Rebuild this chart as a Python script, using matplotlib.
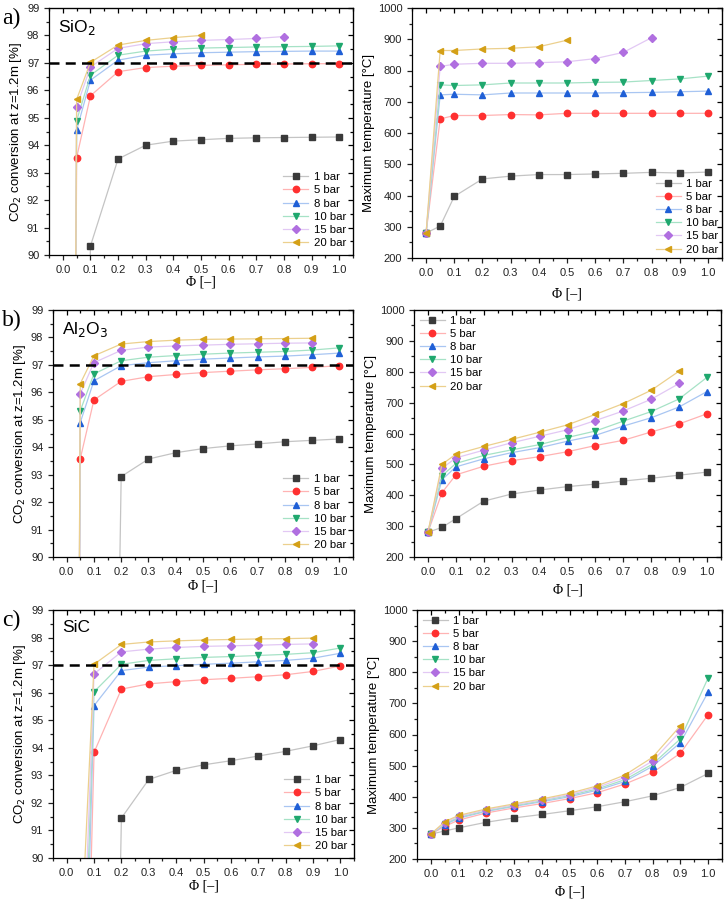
import matplotlib
matplotlib.use("Agg")
import matplotlib.pyplot as plt
from matplotlib.ticker import MultipleLocator

plt.rcParams['font.family'] = ['Liberation Sans', 'DejaVu Sans']

# --- data ---------------------------------------------------------------
phi = [0.0, 0.05, 0.1, 0.2, 0.3, 0.4, 0.5, 0.6, 0.7, 0.8, 0.9, 1.0]
pressures = ['1 bar', '5 bar', '8 bar', '10 bar', '15 bar', '20 bar']

# CO2 conversion at z=1.2m [%]
sio2_conv = {
    '1 bar': [0.0, 60.0, 90.33, 93.5, 94.0, 94.15, 94.2, 94.25, 94.27, 94.28, 94.29, 94.3],
    '5 bar': [0.0, 93.55, 95.8, 96.68, 96.83, 96.88, 96.91, 96.93, 96.95, 96.96, 96.97, 96.97],
    '8 bar': [0.0, 94.55, 96.37, 97.1, 97.28, 97.33, 97.37, 97.39, 97.41, 97.42, 97.43, 97.43],
    '10 bar': [0.0, 94.9, 96.55, 97.28, 97.43, 97.5, 97.54, 97.56, 97.58, 97.59, 97.6, 97.62],
    '15 bar': [0.0, 95.4, 96.85, 97.53, 97.7, 97.77, 97.82, 97.85, 97.89, 97.96],
    '20 bar': [0.0, 95.67, 97.02, 97.65, 97.82, 97.92, 98.0],
}
al2o3_conv = {
    '1 bar': [0.0, 20.0, 30.0, 92.93, 93.57, 93.8, 93.95, 94.05, 94.12, 94.2, 94.25, 94.3],
    '5 bar': [0.0, 93.58, 95.72, 96.4, 96.57, 96.65, 96.72, 96.77, 96.82, 96.86, 96.91, 96.97],
    '8 bar': [0.0, 94.9, 96.42, 96.97, 97.08, 97.15, 97.21, 97.25, 97.29, 97.32, 97.37, 97.43],
    '10 bar': [0.0, 95.33, 96.67, 97.15, 97.28, 97.34, 97.39, 97.43, 97.46, 97.49, 97.54, 97.62],
    '15 bar': [0.0, 95.95, 97.08, 97.53, 97.65, 97.69, 97.72, 97.75, 97.77, 97.79, 97.8],
    '20 bar': [0.0, 96.32, 97.33, 97.76, 97.85, 97.9, 97.93, 97.94, 97.95, 97.96, 97.97],
}
sic_conv = {
    '1 bar': [0.0, 25.0, 40.0, 91.45, 92.85, 93.18, 93.38, 93.53, 93.7, 93.87, 94.07, 94.3],
    '5 bar': [0.0, 74.7, 93.83, 96.13, 96.32, 96.4, 96.47, 96.52, 96.58, 96.65, 96.77, 96.97],
    '8 bar': [0.0, 78.2, 95.53, 96.8, 96.93, 96.98, 97.03, 97.07, 97.12, 97.17, 97.25, 97.43],
    '10 bar': [0.0, 81.0, 96.03, 97.03, 97.17, 97.23, 97.28, 97.31, 97.35, 97.39, 97.45, 97.62],
    '15 bar': [0.0, 83.3, 96.68, 97.48, 97.58, 97.64, 97.68, 97.7, 97.72, 97.75, 97.77],
    '20 bar': [0.0, 86.4, 97.03, 97.75, 97.84, 97.88, 97.91, 97.93, 97.95, 97.96, 97.98],
}

# Maximum temperature [degC]
sio2_temp = {
    '1 bar': [280, 302, 397, 453, 462, 467, 467, 469, 471, 474, 472, 475],
    '5 bar': [280, 645, 656, 656, 659, 658, 663, 663, 663, 663, 663, 663],
    '8 bar': [280, 722, 724, 722, 728, 728, 728, 728, 729, 730, 732, 734],
    '10 bar': [280, 754, 752, 754, 760, 760, 760, 762, 763, 768, 773, 782],
    '15 bar': [280, 813, 820, 823, 823, 825, 828, 838, 858, 905],
    '20 bar': [280, 864, 864, 869, 871, 876, 897],
}
al2o3_temp = {
    '1 bar': [280, 296, 324, 381, 404, 417, 428, 436, 446, 455, 465, 475],
    '5 bar': [280, 408, 466, 494, 512, 525, 541, 561, 578, 605, 631, 664],
    '8 bar': [280, 450, 492, 518, 538, 554, 575, 594, 624, 651, 686, 736],
    '10 bar': [280, 463, 503, 529, 547, 564, 587, 608, 640, 671, 712, 782],
    '15 bar': [280, 487, 521, 546, 570, 591, 612, 642, 673, 711, 762],
    '20 bar': [280, 500, 533, 558, 581, 604, 628, 662, 697, 740, 802],
}
sic_temp = {
    '1 bar': [280, 290, 300, 318, 332, 343, 355, 368, 384, 403, 430, 475],
    '5 bar': [280, 305, 325, 348, 364, 378, 394, 413, 441, 478, 540, 664],
    '8 bar': [280, 310, 331, 353, 369, 384, 400, 421, 449, 498, 574, 736],
    '10 bar': [280, 313, 334, 355, 371, 387, 404, 425, 455, 505, 586, 782],
    '15 bar': [280, 316, 337, 358, 374, 390, 407, 430, 462, 515, 610],
    '20 bar': [280, 320, 340, 361, 377, 393, 411, 435, 470, 527, 628],
}

target_conv = 97.0

# --- style ---------------------------------------------------------------
markers = ['s', 'o', '^', 'v', 'D', '<']
marker_colors = ['#3a3a3a', '#ff3030', '#1f5fd6', '#1fa86e', '#b06fe0', '#d4a017']
line_colors = ['#c4c4c4', '#ffb3b3', '#a9c6f2', '#a6e2c6', '#e2c8f4', '#ecd08e']
msizes = [4.0, 4.6, 4.8, 4.8, 4.0, 4.8]

W, H = 724, 900
fig = plt.figure(figsize=(W / 100, H / 100), dpi=100)


def add_ax(x0, x1, y0, y1):
    return fig.add_axes([x0 / W, 1 - y1 / H, (x1 - x0) / W, (y1 - y0) / H])


def style(ax, ylim, ymaj, ymin, xpad):
    ax.set_xlim(-0.05, 1.05)
    ax.set_ylim(*ylim)
    ax.xaxis.set_major_locator(MultipleLocator(0.1))
    ax.xaxis.set_minor_locator(MultipleLocator(0.05))
    ax.yaxis.set_major_locator(MultipleLocator(ymaj))
    ax.yaxis.set_minor_locator(MultipleLocator(ymin))
    ax.xaxis.set_major_formatter(plt.FuncFormatter(lambda v, p: f'{v:.1f}'))
    ax.tick_params(which='both', direction='out', top=False, right=False,
                   labelsize=8, width=0.9, colors='#222222')
    ax.tick_params(which='major', length=3.5)
    ax.tick_params(which='minor', length=2)
    # inward ticks on top / right like Origin
    ax2 = ax.secondary_xaxis('top')
    ax2.xaxis.set_major_locator(MultipleLocator(0.1))
    ax2.xaxis.set_minor_locator(MultipleLocator(0.05))
    ax2.tick_params(which='both', direction='in', labeltop=False, width=0.9)
    ax2.tick_params(which='major', length=3.5)
    ax2.tick_params(which='minor', length=2)
    ax3 = ax.secondary_yaxis('right')
    ax3.yaxis.set_major_locator(MultipleLocator(ymaj))
    ax3.yaxis.set_minor_locator(MultipleLocator(ymin))
    ax3.tick_params(which='both', direction='in', labelright=False, width=0.9)
    ax3.tick_params(which='major', length=3.5)
    ax3.tick_params(which='minor', length=2)
    for s in ax.spines.values():
        s.set_linewidth(0.9)
    ax.set_xlabel('Φ [–]', family=['Liberation Serif'], fontsize=10, labelpad=xpad)


def draw_series(ax, data):
    for i, p in enumerate(pressures):
        vals = data[p]
        ax.plot(phi[:len(vals)], vals, color=line_colors[i], lw=0.9,
                marker=markers[i], ms=msizes[i], mfc=marker_colors[i],
                mec=marker_colors[i], label=p)


def legend(ax, loc, pad):
    ax.legend(loc=loc, frameon=False, fontsize=8.2, handlelength=2.2,
              labelspacing=0.28, handletextpad=0.5, borderaxespad=pad,
              borderpad=0.3)


panels = [
    ('a)', r'SiO$_2$', sio2_conv, sio2_temp, (49, 353, 8, 255), (412, 722, 8, 258),
     'lower right', 0.0, 0.5, 7),
    ('b)', r'Al$_2$O$_3$', al2o3_conv, al2o3_temp, (53, 353, 310, 557), (414, 721, 310, 557),
     'upper left', 0.2, 2, 5),
    ('c)', 'SiC', sic_conv, sic_temp, (53, 354, 610, 858), (417, 722, 610, 859),
     'upper left', 0.2, 1.5, 5),
]

for tag, name, conv, temp, lbox, rbox, rloc, rpad, lxpad, rxpad in panels:
    ax = add_ax(*lbox)
    draw_series(ax, conv)
    ax.axhline(target_conv, color='black', lw=1.8, ls=(0, (4, 2.5)), zorder=5)
    style(ax, (90, 99), 1, 0.5, lxpad)
    ax.set_ylabel('CO$_2$ conversion at z=1.2m [%]', fontsize=9.5, labelpad=2)
    legend(ax, 'lower right', 0.3)
    ax.text(0.03, 0.96, name, transform=ax.transAxes, fontsize=12.5,
            ha='left', va='top')
    fig.text(2 / W, 1 - (lbox[2] + 10) / H, tag, family=['Liberation Serif'],
             fontsize=17, ha='left', va='center')

    ax = add_ax(*rbox)
    draw_series(ax, temp)
    style(ax, (200, 1000), 100, 50, rxpad)
    ax.set_ylabel('Maximum temperature [°C]', fontsize=9.5, labelpad=2)
    legend(ax, rloc, rpad)

fig.savefig('out.png', dpi=100)
